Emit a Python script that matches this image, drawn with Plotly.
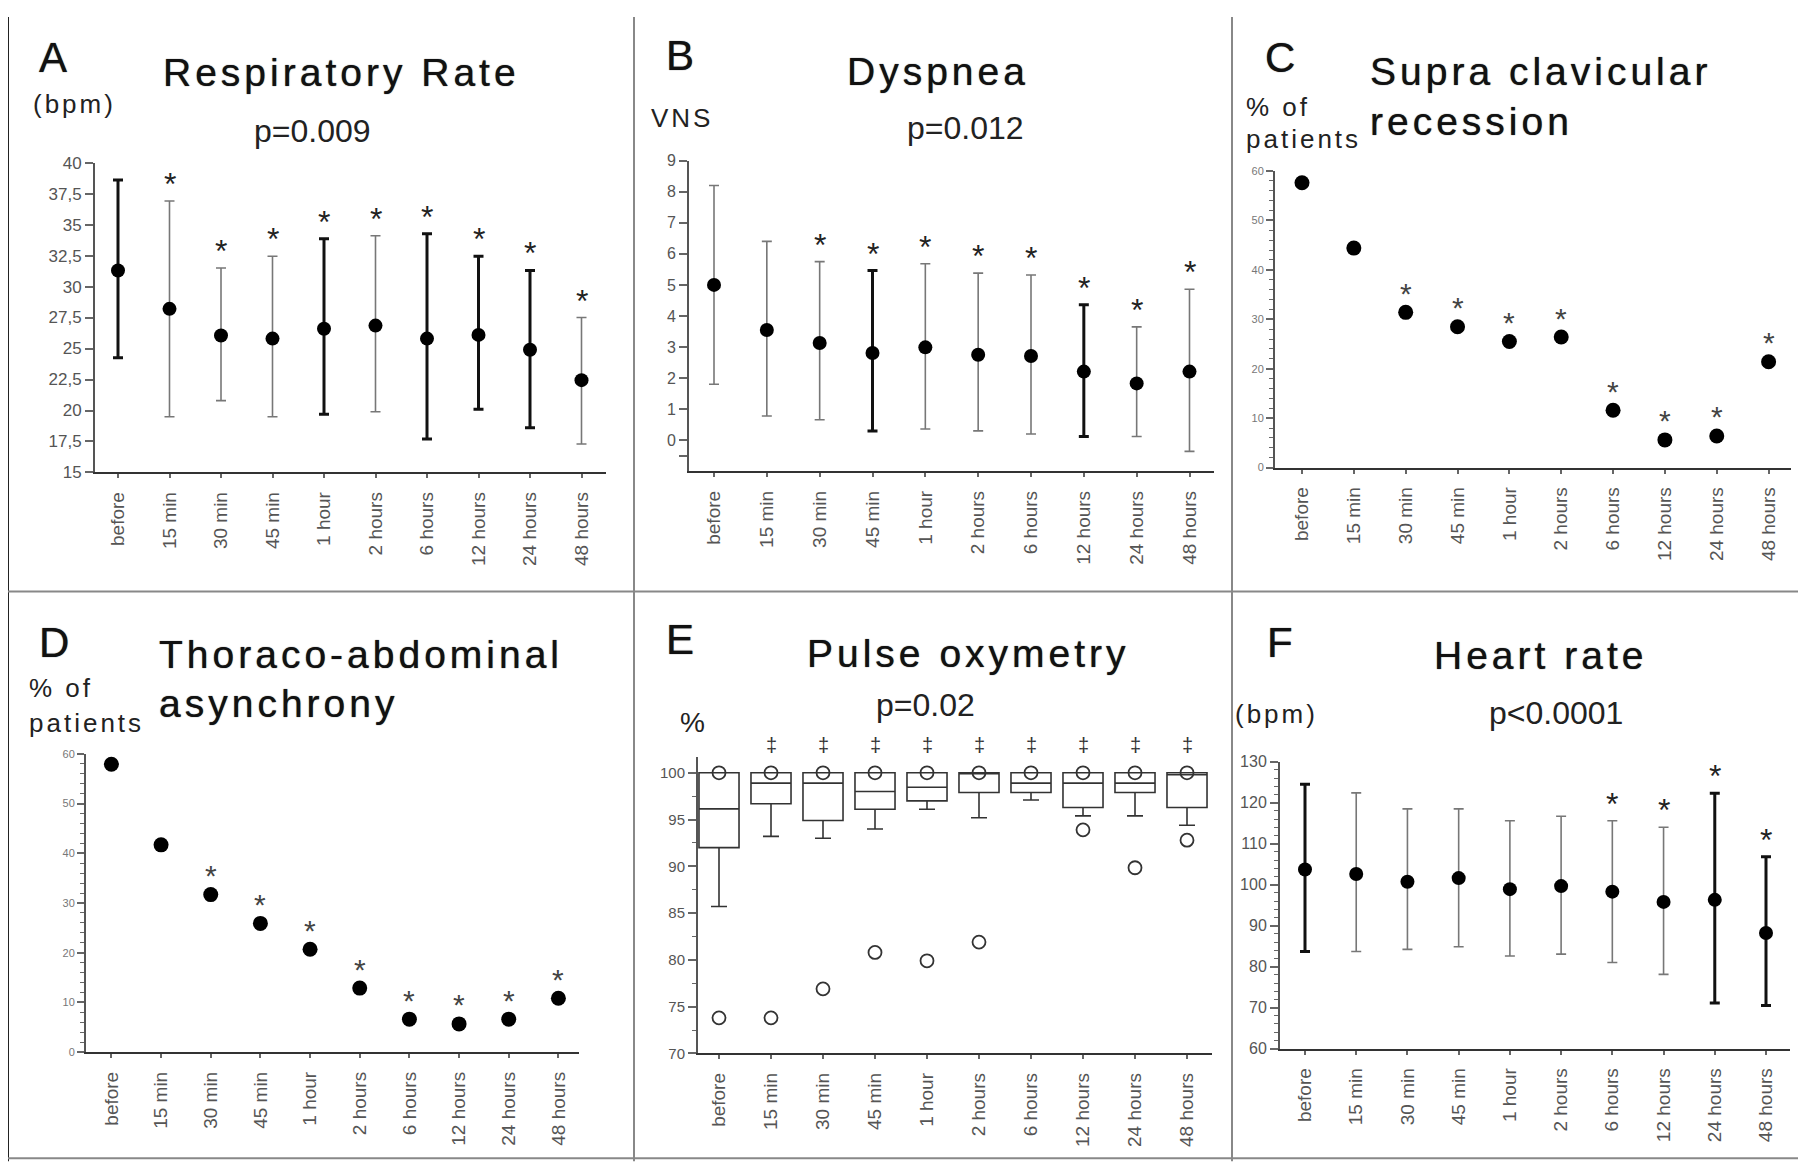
import plotly.graph_objects as go

W, H = 1806, 1171
OFF = 8  # default page margin of the html body, compensated in all pixel positions
FONT = "Liberation Sans, Arial, sans-serif"

# ---------------- data ----------------
CATS = ["before", "15 min", "30 min", "45 min", "1 hour", "2 hours",
        "6 hours", "12 hours", "24 hours", "48 hours"]

# A  Respiratory rate (mean, upper, lower)
A_mean = [31.3, 28.2, 26.05, 25.8, 26.6, 26.85, 25.8, 26.1, 24.9, 22.45]
A_upper = [38.6, 36.9, 31.5, 32.45, 33.85, 34.1, 34.25, 32.45, 31.3, 27.5]
A_lower = [24.25, 19.5, 20.8, 19.5, 19.7, 19.9, 17.7, 20.1, 18.6, 17.3]
A_sig = [0, 1, 1, 1, 1, 1, 1, 1, 1, 1]
A_yticks = [15, 17.5, 20, 22.5, 25, 27.5, 30, 32.5, 35, 37.5, 40]
A_yticktext = ["15", "17,5", "20", "22,5", "25", "27,5", "30", "32,5", "35", "37,5", "40"]

# B  Dyspnea (VNS)
B_mean = [5.0, 3.55, 3.13, 2.81, 2.99, 2.75, 2.71, 2.21, 1.83, 2.21]
B_upper = [8.2, 6.4, 5.75, 5.46, 5.68, 5.38, 5.32, 4.36, 3.65, 4.86]
B_lower = [1.8, 0.78, 0.66, 0.3, 0.36, 0.3, 0.2, 0.12, 0.12, -0.36]
B_sig = [0, 0, 1, 1, 1, 1, 1, 1, 1, 1]
B_yticks = [-0.5, 0, 1, 2, 3, 4, 5, 6, 7, 8, 9]
B_yticktext = ["", "0", "1", "2", "3", "4", "5", "6", "7", "8", "9"]

# C  Supra clavicular recession (% of patients)
C_pct = [57.6, 44.4, 31.4, 28.5, 25.5, 26.4, 11.6, 5.6, 6.4, 21.4]
C_sig = [0, 0, 1, 1, 1, 1, 1, 1, 1, 1]

# D  Thoraco-abdominal asynchrony (% of patients)
D_pct = [57.9, 41.7, 31.7, 25.9, 20.7, 12.9, 6.65, 5.7, 6.65, 10.85]
D_sig = [0, 0, 1, 1, 1, 1, 1, 1, 1, 1]

PCT_yticks = [0, 10, 20, 30, 40, 50, 60]

# E  Pulse oxymetry box plots
E_q1 = [92.0, 96.7, 94.9, 96.1, 97.0, 97.9, 97.9, 96.3, 97.9, 96.3]
E_median = [96.15, 98.9, 98.9, 98.0, 98.45, 100.0, 98.9, 98.9, 98.9, 99.8]
E_q3 = [100, 100, 100, 100, 100, 100, 100, 100, 100, 100]
E_lowfence = [85.7, 93.2, 93.0, 94.0, 96.1, 95.2, 97.1, 95.4, 95.4, 94.4]
E_highfence = [100, 100, 100, 100, 100, 100, 100, 100, 100, 100]
E_out_cat = CATS + ["before", "15 min", "30 min", "45 min", "1 hour",
                    "2 hours", "12 hours", "24 hours", "48 hours"]
E_out_val = [100] * 10 + [73.8, 73.8, 76.9, 80.8, 79.9, 81.9, 93.9, 89.85, 92.8]
E_flag = [0, 1, 1, 1, 1, 1, 1, 1, 1, 1]
E_yticks = [70, 75, 80, 85, 90, 95, 100]

# F  Heart rate
F_mean = [103.7, 102.6, 100.7, 101.6, 98.9, 99.65, 98.3, 95.8, 96.3, 88.2]
F_upper = [124.5, 122.4, 118.5, 118.5, 115.6, 116.7, 115.6, 114.0, 122.3, 106.8]
F_lower = [83.7, 83.7, 84.2, 84.85, 82.6, 83.05, 81.0, 78.1, 71.1, 70.5]
F_sig = [0, 0, 0, 0, 0, 0, 1, 1, 1, 1]
F_yticks = [60, 70, 80, 90, 100, 110, 120, 130]

# ---------------- style (error-bar weight per time point) ----------------
A_bold = [1, 0, 0, 0, 1, 0, 1, 1, 1, 0]
B_bold = [0, 0, 0, 1, 0, 0, 0, 1, 0, 0]
F_bold = [1, 0, 0, 0, 0, 0, 0, 0, 1, 1]


def fx(px):
    return min(max((px - OFF) / W, 0.0), 1.0)


def fy(py):
    return min(max(1 - (py - OFF) / H, 0.0), 1.0)


# ---------------- layout geometry (pixels in the picture) ----------------
PANELS = {
    "A": dict(ax="", x0=95, x1=606, c0=118, c9=581.5, ytop=156, ybot=471, yr=[15, 40]),
    "B": dict(ax="2", x0=689, x1=1214, c0=714, c9=1189.5, ytop=154, ybot=469.8, yr=[-1, 9]),
    "C": dict(ax="3", x0=1275, x1=1791, c0=1302, c9=1768.6, ytop=164.5, ybot=466, yr=[0, 60]),
    "D": dict(ax="4", x0=86, x1=579, c0=111.4, c9=558.4, ytop=757, ybot=1060.3, yr=[0, 60]),
    "E": dict(ax="5", x0=698, x1=1212, c0=719, c9=1187, ytop=760.6, ybot=1061.5, yr=[70, 101.65]),
    "F": dict(ax="6", x0=1280, x1=1790, c0=1305, c9=1766, ytop=765, ybot=1056.6, yr=[60, 130]),
}

fig = go.Figure()
layout = {}

TICKCOL = "#555"
for key, p in PANELS.items():
    n = len(CATS)
    sp = (p["c9"] - p["c0"]) / (n - 1)
    xr = [-(p["c0"] - p["x0"]) / sp, (n - 1) + (p["x1"] - p["c9"]) / sp]
    ax = p["ax"]
    layout["xaxis" + ax] = dict(
        domain=[fx(p["x0"]), fx(p["x1"])], range=xr, type="category",
        categoryorder="array", categoryarray=CATS,
        showline=True, linecolor="#333", linewidth=2, mirror=False,
        ticks="outside", ticklen=4, tickcolor="#666", tickwidth=1.5,
        tickangle=-90, ticklabelstandoff=6,
        tickfont=dict(family=FONT, size=19, color=TICKCOL),
        showgrid=False, zeroline=False, anchor="y" + ax, fixedrange=True)
    layout["yaxis" + ax] = dict(
        domain=[fy(p["ybot"]), fy(p["ytop"])], range=p["yr"],
        showline=True, linecolor="#555", linewidth=2,
        ticks="outside", ticklen=8, tickcolor="#666", tickwidth=1.5,
        showgrid=False, zeroline=False, anchor="x" + ax, fixedrange=True,
        tickfont=dict(family=FONT, size=16, color=TICKCOL))

layout["yaxis"].update(tickmode="array", tickvals=A_yticks, ticktext=A_yticktext,
                       tickfont=dict(family=FONT, size=17, color=TICKCOL))
layout["yaxis2"].update(tickmode="array", tickvals=B_yticks, ticktext=B_yticktext)
for a in ("yaxis3", "yaxis4"):
    layout[a].update(tickmode="array", tickvals=PCT_yticks,
                     ticktext=[str(v) for v in PCT_yticks],
                     tickfont=dict(family=FONT, size=11, color="#777"), ticklen=7,
                     minor=dict(tickmode="array", tickvals=list(range(0, 61, 2)),
                                ticks="outside", ticklen=4, tickcolor="#666", tickwidth=1.2))
layout["yaxis5"].update(tickmode="array", tickvals=E_yticks,
                        ticktext=[str(v) for v in E_yticks],
                        tickfont=dict(family=FONT, size=15, color=TICKCOL),
                        minor=dict(tickmode="array",
                                   tickvals=[72.5, 77.5, 82.5, 87.5, 92.5, 97.5],
                                   ticks="outside", ticklen=4, tickcolor="#666", tickwidth=1.2))
layout["yaxis6"].update(tickmode="array", tickvals=F_yticks,
                        ticktext=[str(v) for v in F_yticks],
                        minor=dict(tickmode="array", tickvals=list(range(60, 131, 2)),
                                   ticks="outside", ticklen=4, tickcolor="#666", tickwidth=1.2))


def add_err_panel(ax, mean, upper, lower, bold, sig):
    for i, c in enumerate(CATS):
        b = bold[i]
        fig.add_trace(go.Scatter(
            x=[c], y=[mean[i]], mode="markers",
            marker=dict(color="#000", size=14),
            error_y=dict(type="data", symmetric=False,
                         array=[upper[i] - mean[i]], arrayminus=[mean[i] - lower[i]],
                         color="#111" if b else "#777",
                         thickness=3 if b else 1.6, width=5),
            xaxis="x" + ax, yaxis="y" + ax, showlegend=False,
            hoverinfo="skip", cliponaxis=False))
        if sig[i]:
            fig.add_annotation(x=c, y=upper[i], xref="x" + ax, yref="y" + ax,
                               text="*", showarrow=False, yanchor="middle", yshift=17,
                               font=dict(family=FONT, size=32, color="#222"))


def add_pct_panel(ax, vals, sig):
    fig.add_trace(go.Scatter(
        x=CATS, y=vals, mode="markers", marker=dict(color="#000", size=15),
        xaxis="x" + ax, yaxis="y" + ax, showlegend=False, hoverinfo="skip",
        cliponaxis=False))
    for i, c in enumerate(CATS):
        if sig[i]:
            fig.add_annotation(x=c, y=vals[i], xref="x" + ax, yref="y" + ax,
                               text="*", showarrow=False, yanchor="middle", yshift=19,
                               font=dict(family=FONT, size=30, color="#444"))


add_err_panel("", A_mean, A_upper, A_lower, A_bold, A_sig)
add_err_panel("2", B_mean, B_upper, B_lower, B_bold, B_sig)
add_pct_panel("3", C_pct, C_sig)
add_pct_panel("4", D_pct, D_sig)
add_err_panel("6", F_mean, F_upper, F_lower, F_bold, F_sig)

# E: box plots
fig.add_trace(go.Box(
    x=CATS, q1=E_q1, median=E_median, q3=E_q3,
    lowerfence=E_lowfence, upperfence=E_highfence,
    boxpoints=False, width=0.77, whiskerwidth=0.4,
    fillcolor="rgba(255,255,255,0)", line=dict(color="#333", width=1.6),
    xaxis="x5", yaxis="y5", showlegend=False, hoverinfo="skip"))
fig.add_trace(go.Scatter(
    x=E_out_cat, y=E_out_val, mode="markers",
    marker=dict(symbol="circle-open", size=13, color="#333", line=dict(width=1.8)),
    xaxis="x5", yaxis="y5", showlegend=False, hoverinfo="skip", cliponaxis=False))
for i, c in enumerate(CATS):
    if E_flag[i]:
        fig.add_annotation(x=c, y=E_highfence[i], xref="x5", yref="y5",
                           text="‡", showarrow=False, yanchor="middle", yshift=28,
                           font=dict(family=FONT, size=20, color="#333"))


# ---------------- texts ----------------
def txt(s, x, baseline, fs, anchor="left", ls=None, color="#111", heavy=False):
    if ls:
        s = '<span style="letter-spacing:%spx">%s</span>' % (ls, s)
    yc = baseline - 0.3465 * fs
    font = dict(family=FONT, size=fs, color=color)
    if heavy:
        font["shadow"] = "0px 0px 1px #333"
    fig.add_annotation(xref="paper", yref="paper", x=fx(x), y=fy(yc), text=s,
                       xanchor=anchor, yanchor="middle", showarrow=False, font=font)


# A
txt("A", 37, 64, 42, heavy=True)
txt("Respiratory Rate", 341.5, 78, 39, "center", 4, heavy=True)
txt("(bpm)", 30.6, 105, 26, ls=3, color="#222")
txt("p=0.009", 312.5, 135, 32, "center", color="#222")
# B
txt("B", 664, 62, 42, heavy=True)
txt("Dyspnea", 938, 77, 39, "center", 4, heavy=True)
txt("VNS", 649, 120, 26, ls=3, color="#222")
txt("p=0.012", 966, 132, 32, "center", color="#222")
# C
txt("C", 1263, 64, 42, heavy=True)
txt("Supra clavicular", 1367.6, 77, 39, "left", 4, heavy=True)
txt("recession", 1367.6, 128, 39, "left", 4, heavy=True)
txt("% of", 1244, 109, 26, ls=3, color="#222")
txt("patients", 1244, 141, 26, ls=3, color="#222")
# D
txt("D", 37, 658, 42, heavy=True)
txt("Thoraco-abdominal", 157, 670, 39, "left", 4, heavy=True)
txt("asynchrony", 157, 719.5, 39, "left", 4, heavy=True)
txt("% of", 26.5, 699, 26, ls=3, color="#222")
txt("patients", 26.5, 734.5, 26, ls=3, color="#222")
# E
txt("E", 664, 655, 42, heavy=True)
txt("Pulse oxymetry", 968, 669, 39, "center", 4, heavy=True)
txt("p=0.02", 925.6, 718, 32, "center", color="#222")
txt("%", 678, 734.5, 28, color="#222")
# F
txt("F", 1265, 658, 42, heavy=True)
txt("Heart rate", 1540, 671, 39, "center", 4, heavy=True)
txt("(bpm)", 1233, 725, 26, ls=3, color="#222")
txt("p&lt;0.0001", 1556, 727, 32, "center", color="#222")

# ---------------- panel frame lines ----------------
frame = [(5, 0, 5, H, "#222"), (634, 0, 634, H, "#888"), (1232, 0, 1232, H, "#888"),
         (1803, 0, 1803, H, "#888"), (5, 592, 1803, 592, "#888"),
         (5, 1168, 1803, 1168, "#888")]
shapes = []
for x0, y0, x1, y1, col in frame:
    shapes.append(dict(type="line", xref="paper", yref="paper",
                       x0=fx(x0), x1=fx(x1), y0=fy(y0), y1=fy(y1),
                       line=dict(color=col, width=2)))

fig.update_layout(width=W, height=H, margin=dict(l=0, r=0, t=0, b=0),
                  paper_bgcolor="white", plot_bgcolor="white",
                  showlegend=False, shapes=shapes, **layout)

fig.write_html("out.html")
